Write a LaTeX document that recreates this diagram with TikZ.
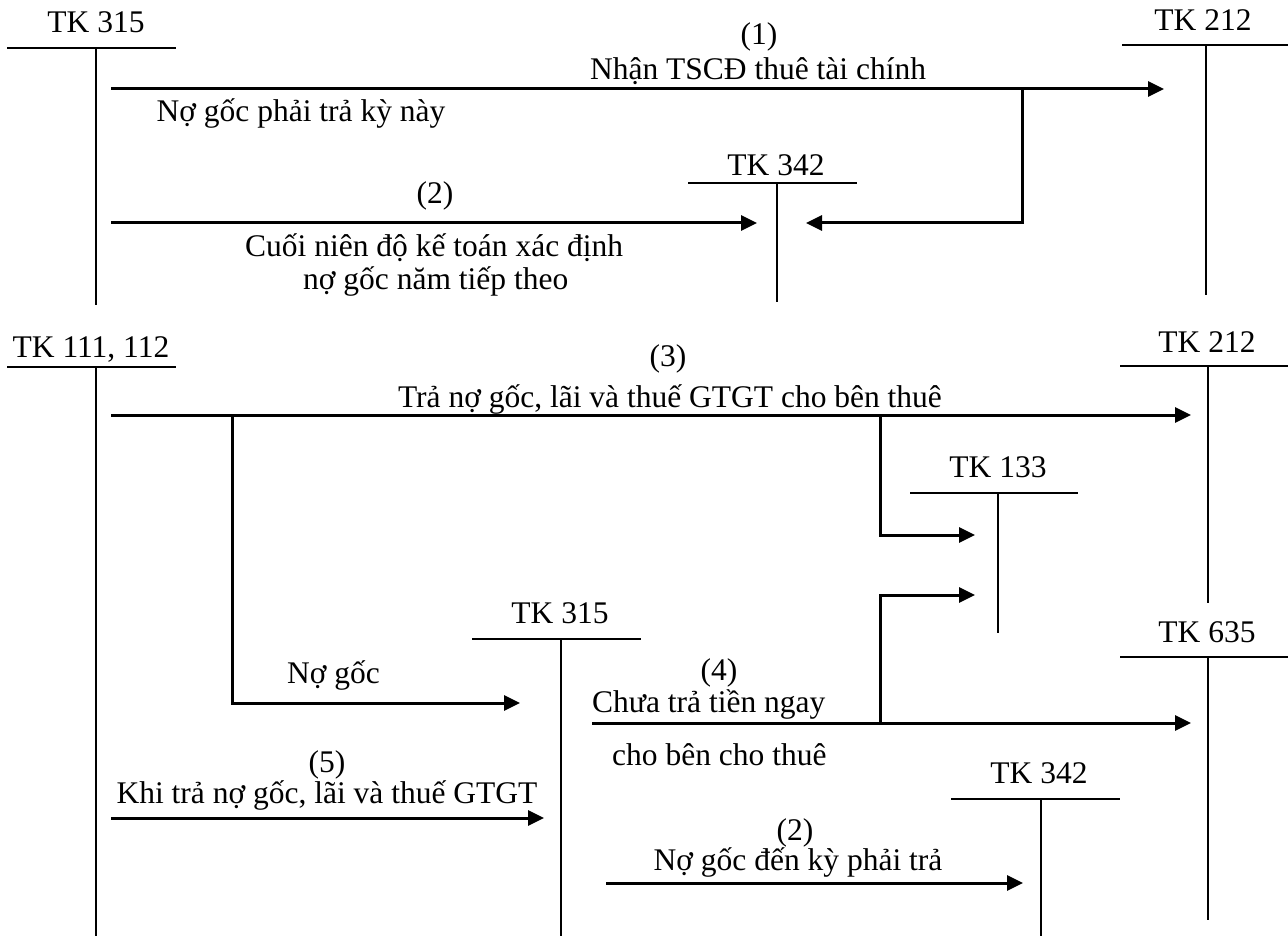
\documentclass[tikz,border=0pt]{standalone}
\usepackage{fontspec}
\setmainfont{Liberation Serif}
\usetikzlibrary{arrows.meta}
\begin{document}
\begin{tikzpicture}[x=1pt,y=-1pt,
 lbl/.style={inner sep=0pt,anchor=base,font=\fontsize{31.5}{36}\selectfont},
 lblw/.style={lbl,anchor=base west},
 tline/.style={line width=2pt},
 flow/.style={line width=3pt,-{Triangle[length=16pt,width=15pt]}},
 plain/.style={line width=3pt}]
\useasboundingbox (0,0) rectangle (1288,936);

% ---------- T accounts ----------
% top TK 315
\node[lbl] (a315) at (96,33) {TK 315};
\coordinate (a315l) at (7,48); \coordinate (a315r) at (176,48);
\coordinate (a315t) at (96,48); \coordinate (a315b) at (96,305);
\draw[tline] (a315l) -- (a315r); \draw[tline] (a315t) -- (a315b);
% top TK 212
\node[lbl] (a212) at (1203,31) {TK 212};
\coordinate (a212l) at (1122,45); \coordinate (a212r) at (1288,45);
\coordinate (a212t) at (1206,45); \coordinate (a212b) at (1206,295);
\draw[tline] (a212l) -- (a212r); \draw[tline] (a212t) -- (a212b);
% top TK 342
\node[lbl] (a342) at (776,176) {TK 342};
\coordinate (a342l) at (688,183); \coordinate (a342r) at (857,183);
\coordinate (a342t) at (777,183); \coordinate (a342b) at (777,302);
\draw[tline] (a342l) -- (a342r); \draw[tline] (a342t) -- (a342b);

% bottom TK 111, 112
\node[lbl] (b111) at (91,357) {TK 111, 112};
\coordinate (b111l) at (7,367); \coordinate (b111r) at (176,367);
\coordinate (b111t) at (96,367); \coordinate (b111b) at (96,936);
\draw[tline] (b111l) -- (b111r); \draw[tline] (b111t) -- (b111b);
% bottom TK 212
\node[lbl] (b212) at (1207,352) {TK 212};
\coordinate (b212l) at (1120,366); \coordinate (b212r) at (1288,366);
\coordinate (b212t) at (1208,366); \coordinate (b212b) at (1208,603);
\draw[tline] (b212l) -- (b212r); \draw[tline] (b212t) -- (b212b);
% TK 133
\node[lbl] (b133) at (998,477) {TK 133};
\coordinate (b133l) at (910,493); \coordinate (b133r) at (1078,493);
\coordinate (b133t) at (998,493); \coordinate (b133b) at (998,633);
\draw[tline] (b133l) -- (b133r); \draw[tline] (b133t) -- (b133b);
% bottom TK 315
\node[lbl] (b315) at (560,623) {TK 315};
\coordinate (b315l) at (472,639); \coordinate (b315r) at (641,639);
\coordinate (b315t) at (561,639); \coordinate (b315b) at (561,936);
\draw[tline] (b315l) -- (b315r); \draw[tline] (b315t) -- (b315b);
% TK 635
\node[lbl] (b635) at (1207,642) {TK 635};
\coordinate (b635l) at (1120,657); \coordinate (b635r) at (1288,657);
\coordinate (b635t) at (1208,657); \coordinate (b635b) at (1208,920);
\draw[tline] (b635l) -- (b635r); \draw[tline] (b635t) -- (b635b);
% bottom TK 342
\node[lbl] (b342) at (1039,783) {TK 342};
\coordinate (b342l) at (951,799); \coordinate (b342r) at (1120,799);
\coordinate (b342t) at (1041,799); \coordinate (b342b) at (1041,936);
\draw[tline] (b342l) -- (b342r); \draw[tline] (b342t) -- (b342b);

% ---------- top flows ----------
\coordinate (f1s) at (111,89); \coordinate (f1e) at (1164,89);
\coordinate (f1k) at (1022,89); \coordinate (f1d) at (1022,223); \coordinate (f1t) at (806,223);
\draw[flow] (f1s) -- (f1e);
\draw[flow] (f1k) -- (f1d) -- (f1t);
\node[lbl] (t1n) at (759,45) {(1)};
\node[lbl] (t1) at (758,80) {Nhận TSCĐ thuê tài chính};
\node[lbl] (t1b) at (301,122) {Nợ gốc phải trả kỳ này};

\coordinate (f2s) at (111,223); \coordinate (f2e) at (757,223);
\draw[flow] (f2s) -- (f2e);
\node[lbl] (t2n) at (435,204) {(2)};
\node[lblw] (t2a) at (245,257) {Cuối niên độ kế toán xác định};
\node[lblw] (t2b) at (303,290) {nợ gốc năm tiếp theo};

% ---------- bottom flows ----------
\coordinate (f3s) at (111,415); \coordinate (f3e) at (1191,415);
\draw[flow] (f3s) -- (f3e);
\node[lbl] (t3n) at (668,366) {(3)};
\node[lbl] (t3) at (670,407) {Trả nợ gốc, lãi và thuế GTGT cho bên thuê};

\coordinate (f3a) at (232,415); \coordinate (f3ad) at (232,703); \coordinate (f3ae) at (520,703);
\draw[flow] (f3a) -- (f3ad) -- (f3ae);
\node[lblw] (t3a) at (287,683) {Nợ gốc};

\coordinate (f3b) at (880,415); \coordinate (f3bd) at (880,535); \coordinate (f3be) at (975,535);
\draw[flow] (f3b) -- (f3bd) -- (f3be);

\coordinate (f4s) at (592,723); \coordinate (f4e) at (1191,723);
\draw[flow] (f4s) -- (f4e);
\coordinate (f4k) at (880,723); \coordinate (f4u) at (880,595); \coordinate (f4t) at (975,595);
\draw[flow] (f4k) -- (f4u) -- (f4t);
\node[lbl] (t4n) at (719,680) {(4)};
\node[lblw] (t4a) at (592,712) {Chưa trả tiền ngay};
\node[lblw] (t4b) at (612,765) {cho bên cho thuê};

\coordinate (f5s) at (111,818); \coordinate (f5e) at (544,818);
\draw[flow] (f5s) -- (f5e);
\node[lbl] (t5n) at (327,772) {(5)};
\node[lbl] (t5) at (327,803) {Khi trả nợ gốc, lãi và thuế GTGT};

\coordinate (f6s) at (606,883); \coordinate (f6e) at (1023,883);
\draw[flow] (f6s) -- (f6e);
\node[lbl] (t6n) at (795,840) {(2)};
\node[lbl] (t6) at (798,870) {Nợ gốc đến kỳ phải trả};
\end{tikzpicture}
\end{document}
